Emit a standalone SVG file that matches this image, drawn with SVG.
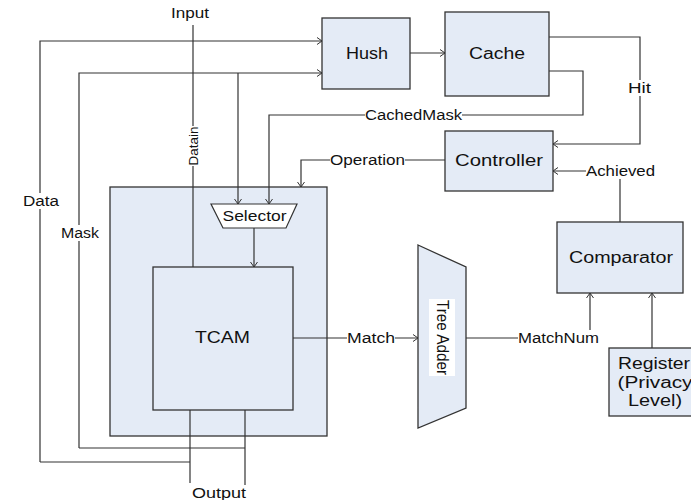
<svg xmlns="http://www.w3.org/2000/svg" width="691" height="500" viewBox="0 0 691 500">
<defs>
<marker id="a" markerWidth="10" markerHeight="10" refX="8" refY="5" orient="auto" markerUnits="userSpaceOnUse">
<polyline points="3,1.5 8,5 3,8.5" fill="none" stroke="#333" stroke-width="1"/>
</marker>
<style>
.box{fill:#e4ebf6;stroke:#333;stroke-width:1.3}
.ln{fill:none;stroke:#333;stroke-width:1.2}
.ar{marker-end:url(#a)}
text{font-family:"Liberation Sans","Noto Sans CJK JP",sans-serif;fill:#111}
.t{font-size:16px;text-anchor:middle;dominant-baseline:central}
.s{font-size:14px;text-anchor:middle;dominant-baseline:central}
.bg{fill:#fff;stroke:none}
</style>
</defs>
<rect width="691" height="500" fill="#fff"/>
<g id="outer"><rect class="box" x="110" y="187" width="217" height="249"/></g>
<g id="connectors">
<polyline class="ln ar" points="40,462 40,41 322,41"/>
<polyline class="ln" points="190,462 40,462"/>
<polyline class="ln ar" points="79,448 79,73 322,73"/>
<polyline class="ln" points="245,448 79,448"/>
<polyline class="ln ar" points="238,73 238,204"/>
<polyline class="ln ar" points="549,71 583,71 583,115 269,115 269,204"/>
<polyline class="ln" points="193,25 193,267"/>
<polyline class="ln ar" points="410,53 445,53"/>
<polyline class="ln ar" points="549,37 640,37 640,144 553,144"/>
<polyline class="ln ar" points="445,160 301,160 301,187"/>
<polyline class="ln ar" points="620,222 620,171 553,171"/>
<polyline class="ln ar" points="254,228 254,267"/>
<polyline class="ln ar" points="293,338 418,338"/>
<polyline class="ln ar" points="466,338 590,338 590,293"/>
<polyline class="ln ar" points="652,348 652,293"/>
<polyline class="ln" points="190,410 190,483"/>
<polyline class="ln" points="245,410 245,485"/>
<rect class="bg" x="185" y="126" width="16" height="40"/>
<text class="s" transform="translate(193,146) rotate(-90)" style="font-size:13.5px">Datain</text>
<rect class="bg" x="365" y="107" width="97" height="16"/>
<text class="s" x="413.5" y="115" textLength="97" lengthAdjust="spacingAndGlyphs">CachedMask</text>
<rect class="bg" x="628" y="80" width="23" height="16"/>
<text class="s" x="639.5" y="88" textLength="23" lengthAdjust="spacingAndGlyphs">Hit</text>
<rect class="bg" x="330" y="152" width="75" height="16"/>
<text class="s" x="367.5" y="160" textLength="75" lengthAdjust="spacingAndGlyphs">Operation</text>
<rect class="bg" x="586" y="163" width="69" height="16"/>
<text class="s" x="620.5" y="171" textLength="69" lengthAdjust="spacingAndGlyphs">Achieved</text>
<rect class="bg" x="347" y="330" width="48" height="16"/>
<text class="s" x="371" y="338" textLength="48" lengthAdjust="spacingAndGlyphs">Match</text>
<rect class="bg" x="518" y="330" width="81" height="16"/>
<text class="s" x="558.5" y="338" textLength="81" lengthAdjust="spacingAndGlyphs">MatchNum</text>
<text class="s" x="190" y="13" textLength="38" lengthAdjust="spacingAndGlyphs">Input</text>
<rect class="bg" x="22" y="193" width="38" height="16"/>
<text class="s" x="41" y="201" textLength="36" lengthAdjust="spacingAndGlyphs">Data</text>
<rect class="bg" x="60" y="225" width="40" height="16"/>
<text class="s" x="80" y="233" textLength="38" lengthAdjust="spacingAndGlyphs">Mask</text>
<text class="s" x="219" y="493" textLength="54" lengthAdjust="spacingAndGlyphs">Output</text>
</g>
<g id="hush"><rect class="box" x="322" y="18" width="88" height="71"/><text class="t" x="367" y="53" textLength="42" lengthAdjust="spacingAndGlyphs">Hush</text></g>
<g id="cache"><rect class="box" x="445" y="12" width="104" height="84"/><text class="t" x="497" y="53" textLength="56" lengthAdjust="spacingAndGlyphs">Cache</text></g>
<g id="controller"><rect class="box" x="445" y="131" width="108" height="60"/><text class="t" x="499" y="160" textLength="88" lengthAdjust="spacingAndGlyphs">Controller</text></g>
<g id="selector"><polygon points="211,204 297,204 286,228 223,228" fill="#fff" stroke="#333" stroke-width="1.2"/><text class="s" x="254.5" y="216" textLength="64" lengthAdjust="spacingAndGlyphs">Selector</text></g>
<g id="tcam"><rect class="box" x="153" y="267" width="140" height="143"/><text class="t" x="222.5" y="337" style="font-size:17px" textLength="55" lengthAdjust="spacingAndGlyphs">TCAM</text></g>
<g id="treeadder"><polygon class="box" points="418,245 466,267 466,408 418,428"/><rect class="bg" x="429" y="299" width="26" height="77"/><text class="t" transform="translate(442,337.5) rotate(90)" textLength="75" lengthAdjust="spacingAndGlyphs">Tree Adder</text></g>
<g id="comparator"><rect class="box" x="557" y="222" width="126" height="71"/><text class="t" x="621" y="257" textLength="104" lengthAdjust="spacingAndGlyphs">Comparator</text></g>
<g id="register"><rect class="box" x="609" y="348" width="95" height="68"/><text class="t" x="654" y="363" textLength="72" lengthAdjust="spacingAndGlyphs">Register</text><text class="t" x="655" y="382" textLength="75" lengthAdjust="spacingAndGlyphs">(Privacy</text><text class="t" x="655" y="400" textLength="54" lengthAdjust="spacingAndGlyphs">Level)</text></g>
</svg>
